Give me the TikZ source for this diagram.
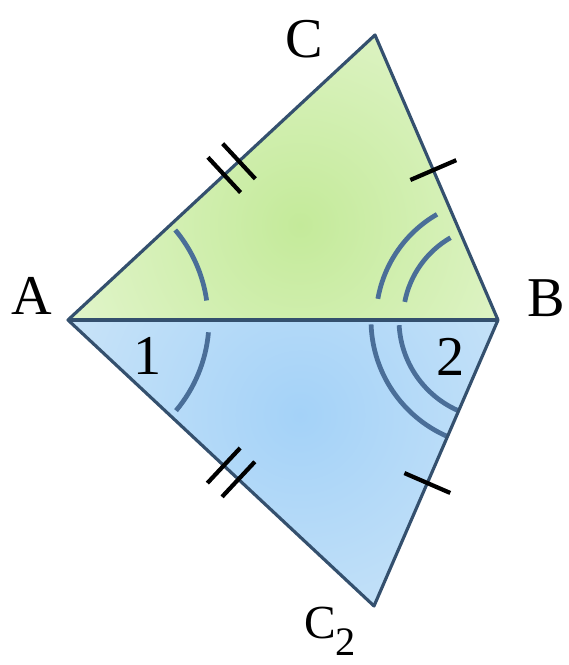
\documentclass[tikz,border=0pt]{standalone}
\usepackage{fontspec}
\setmainfont{Liberation Serif}
\usetikzlibrary{calc}

\definecolor{edgecol}{HTML}{34506E}
\definecolor{arccol}{HTML}{4A6E98}
\definecolor{greenin}{HTML}{C4EA9A}
\definecolor{greenout}{HTML}{E2F5CC}
\definecolor{bluein}{HTML}{A4D2F8}
\definecolor{blueout}{HTML}{CAE4F8}

\begin{document}
\begin{tikzpicture}[x=0.02cm,y=0.02cm,
		edge/.style={draw=edgecol,line width=1.8pt,line join=round},
		anglearc/.style={draw=arccol,line width=2.7pt},
		tickmark/.style={draw=black,line width=2.4pt},
		lbl/.style={font=\fontsize{32}{34}\selectfont,inner sep=0pt}]
		\useasboundingbox (0,0) rectangle (568,665);
		\coordinate (A) at (68,345);
		\coordinate (B) at (498,345);
		\coordinate (C) at (375,630);
		\coordinate (C2) at (374,59);

		% fills
		\begin{scope}
			\clip (A) -- (C) -- (B) -- cycle;
			\shade[inner color=greenin, outer color=greenout] (300,440) circle[radius=260];
		\end{scope}
		\begin{scope}
			\clip (A) -- (C2) -- (B) -- cycle;
			\shade[inner color=bluein, outer color=blueout] (300,250) circle[radius=260];
		\end{scope}

		% angle arcs
		\draw[anglearc] ($(A)+(8:140)$) arc[start angle=8, end angle=40, radius=140];
		\draw[anglearc] ($(A)+(-5:141)$) arc[start angle=-5, end angle=-40, radius=141];
		\draw[anglearc] ($(B)+(170:122)$) arc[start angle=170, end angle=120, radius=122];
		\draw[anglearc] ($(B)+(169:95)$) arc[start angle=169, end angle=120, radius=95];
		\draw[anglearc] ($(B)+(182:127)$) arc[start angle=182, end angle=246, radius=127];
		\draw[anglearc] ($(B)+(183:99)$) arc[start angle=183, end angle=246, radius=99];

		% sides
		\draw[edge] (A) -- (C) -- (B) -- (C2) -- cycle;
		\draw[edge] (A) -- (B);

		% tick marks
		\coordinate (ac1) at ($(A)!0.509!(C)$);
		\coordinate (ac2) at ($(A)!0.557!(C)$);
		\coordinate (ad1) at ($(A)!0.509!(C2)$);
		\coordinate (ad2) at ($(A)!0.557!(C2)$);
		\coordinate (bc) at ($(B)!0.526!(C)$);
		\coordinate (bd) at ($(B)!0.57!(C2)$);
		\draw[tickmark] ($(ac1)!0.48cm!90:(C)$) -- ($(ac1)!0.48cm!-90:(C)$);
		\draw[tickmark] ($(ac2)!0.48cm!90:(C)$) -- ($(ac2)!0.48cm!-90:(C)$);
		\draw[tickmark] ($(ad1)!0.48cm!90:(C2)$) -- ($(ad1)!0.48cm!-90:(C2)$);
		\draw[tickmark] ($(ad2)!0.48cm!90:(C2)$) -- ($(ad2)!0.48cm!-90:(C2)$);
		\draw[tickmark] ($(bc)!0.5cm!90:(C)$) -- ($(bc)!0.5cm!-90:(C)$);
		\draw[tickmark] ($(bd)!0.5cm!90:(C2)$) -- ($(bd)!0.5cm!-90:(C2)$);

		% labels
		\node[lbl] (lA) at (32,369) {A};
		\node[lbl] (lB) at (546,367) {B};
		\node[lbl] (lC) at (304,626) {C};
		\node[lbl] (l1) at (148,309) {1};
		\node[lbl] (l2) at (451,308) {2};
		\node[lbl,font=\fontsize{27}{28}\selectfont,anchor=base west] (lC2) at (304,27) {C\raisebox{-10pt}{\fontsize{23}{24}\selectfont 2}};
	\end{tikzpicture}
\end{document}
